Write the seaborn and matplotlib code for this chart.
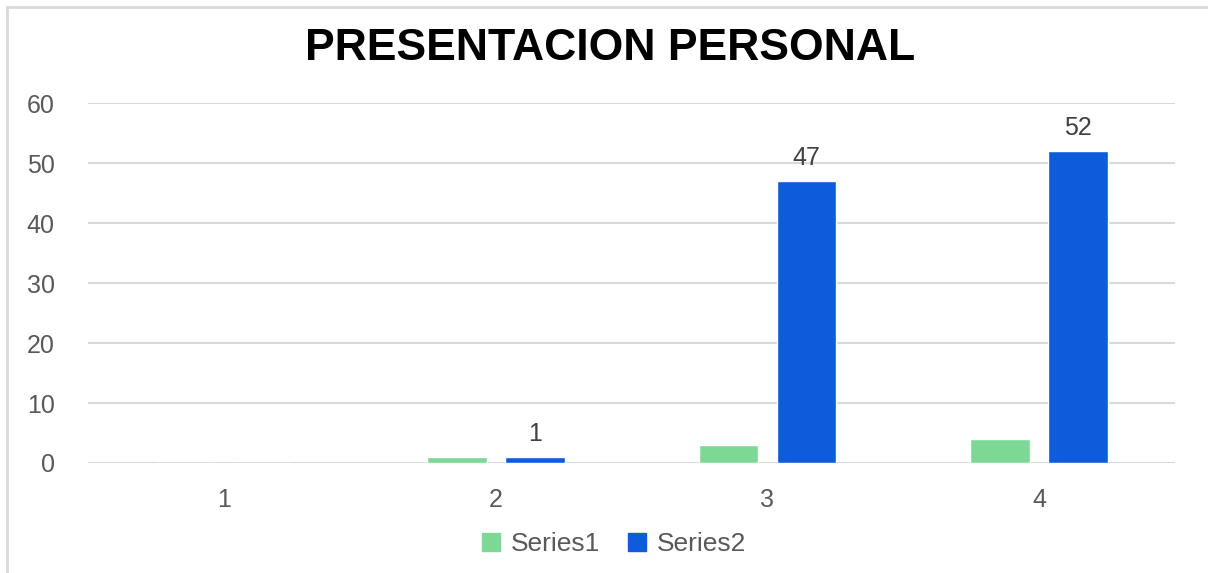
import pandas as pd
import numpy as np
import matplotlib.pyplot as plt
import seaborn as sns
from matplotlib.lines import Line2D

# datos
categorias = ['1', '2', '3', '4']
series1 = [0, 1, 3, 4]
series2 = [0, 1, 47, 52]
nombres = ['Series1', 'Series2']
colores = ['#7DD895', '#0E5CDB']

df = pd.DataFrame({
    'Categoria': categorias * 2,
    'Valor': series1 + series2,
    'Serie': [nombres[0]] * 4 + [nombres[1]] * 4,
})

sns.set_theme(style='white')
plt.rcParams['font.family'] = ['Liberation Sans', 'DejaVu Sans']

fig = plt.figure(figsize=(12.08, 5.73), dpi=100)
ax = fig.add_axes([0.0728, 0.192, 0.9, 0.628])

sns.barplot(data=df, x='Categoria', y='Valor', hue='Serie', palette=colores,
            width=0.574, gap=0.233, saturation=1, ax=ax, legend=False)

ax.set_ylim(0, 60)
ax.set_yticks(range(0, 61, 10))
ax.yaxis.grid(True, color='#D9D9D9', linewidth=1.5)
ax.set_axisbelow(True)
for s in ax.spines.values():
    s.set_visible(False)
ax.axhline(0, color='#D9D9D9', linewidth=1.5, zorder=0.5)

ax.tick_params(axis='y', labelsize=18, labelcolor='#595959', length=0, pad=24)
ax.tick_params(axis='x', labelsize=18, labelcolor='#595959', length=0, pad=18)
ax.set_xlabel('')
ax.set_ylabel('')

# etiquetas solo en Series2
cont = ax.containers[1]
etiquetas = [str(v) if v > 0 else '' for v in series2]
ax.bar_label(cont, labels=etiquetas, fontsize=18, color='#404040', padding=8)

fig.text(0.505, 1 - 48 / 573, 'PRESENTACION PERSONAL', fontsize=32,
         fontweight='bold', color='black', ha='center', va='center')

handles = [Line2D([], [], marker='s', linestyle='', markersize=13,
                  markerfacecolor=c, markeredgecolor=c) for c in colores]
fig.legend(handles, nombres, loc='center', bbox_to_anchor=(0.508, 0.05),
           ncol=2, frameon=False, fontsize=19, labelcolor='#595959',
           handlelength=0.8, handletextpad=0.35, columnspacing=1.0)

# borde del grafico
fig.add_artist(Line2D([7 / 1208, 1], [1 - 7 / 573, 1 - 7 / 573],
                      transform=fig.transFigure, color='#D9D9D9', linewidth=2))
fig.add_artist(Line2D([7 / 1208, 7 / 1208], [0, 1 - 7 / 573],
                      transform=fig.transFigure, color='#D9D9D9', linewidth=2))

fig.savefig('out.png', dpi=100)
